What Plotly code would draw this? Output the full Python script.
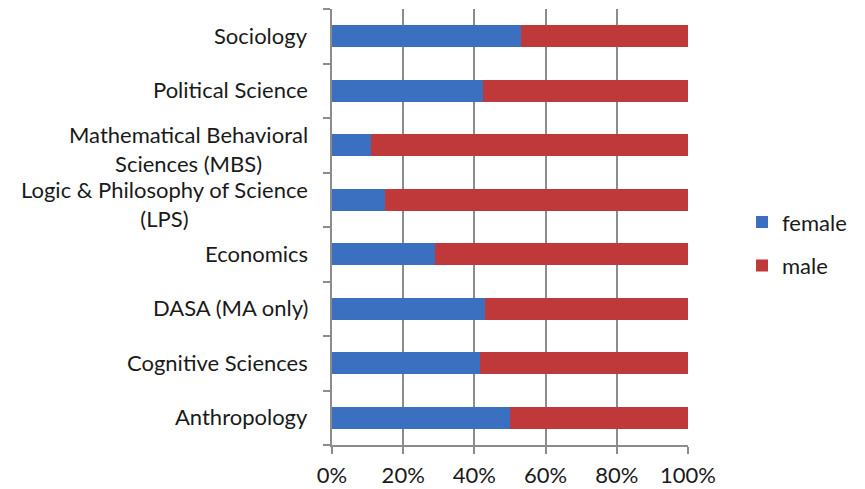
import plotly.graph_objects as go

categories = ["Anthropology", "Cognitive Sciences", "DASA (MA only)", "Economics",
              "Logic & Philosophy of Science<br>(LPS)",
              "Mathematical Behavioral<br>Sciences (MBS)",
              "Political Science", "Sociology"]
female = [50, 41.5, 43, 29, 15, 11, 42.5, 53]
male = [100 - v for v in female]
x_ticks = [0, 20, 40, 60, 80, 100]
x_tick_labels = ["0%", "20%", "40%", "60%", "80%", "100%"]

FONT = "Lato, 'Open Sans', sans-serif"
FS = 22
GRID = "#8c8c8c"
TXT = "#1a1a1a"

# the page body has an 8px margin, so the figure is sized/placed to compensate
W, H = 857, 481

fig = go.Figure()
fig.add_trace(go.Bar(y=categories, x=female, name="female", orientation="h",
                     marker=dict(color="#3b6fbf", line=dict(width=0)),
                     legendgroup="f"))
fig.add_trace(go.Bar(y=categories, x=male, name="male", orientation="h",
                     marker=dict(color="#c0393a", line=dict(width=0)),
                     legendgroup="m"))

for c in categories:
    shift = -4 if "<br>" in c else 1
    fig.add_annotation(x=0, xref="paper", y=c, yref="y", text=c, showarrow=False,
                       xanchor="right", xshift=-22, yshift=shift, align="center",
                       font=dict(family=FONT, size=FS, color=TXT))

fig.update_layout(
    width=W, height=H,
    margin=dict(l=324, r=177, t=1, b=44, autoexpand=False),
    barmode="stack", bargap=0.6,
    paper_bgcolor="white", plot_bgcolor="white",
    font=dict(family=FONT, size=FS, color=TXT),
    showlegend=True,
    legend=dict(xref="container", yref="container", x=0.8565, y=0.509,
                xanchor="left", yanchor="middle", traceorder="grouped",
                tracegroupgap=12, font=dict(family=FONT, size=FS, color=TXT),
                itemwidth=30),
    xaxis=dict(range=[0, 100], tickvals=x_ticks, ticktext=x_tick_labels,
               showgrid=True, gridcolor=GRID, gridwidth=2,
               showline=True, linecolor=GRID, linewidth=2,
               ticks="outside", ticklen=7, tickcolor=GRID, tickwidth=2,
               ticklabelstandoff=3, zeroline=False, automargin=False,
               tickfont=dict(family=FONT, size=22, color=TXT)),
    yaxis=dict(showticklabels=False, showline=True, linecolor=GRID, linewidth=2,
               ticks="outside", ticklen=7, tickcolor=GRID, tickwidth=2,
               tickson="boundaries", showgrid=False, zeroline=False,
               automargin=False),
)

fig.write_html("out.html")
